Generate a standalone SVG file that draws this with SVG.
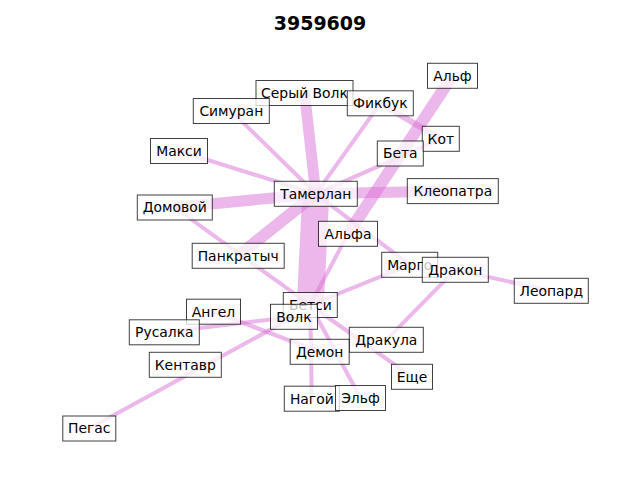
<svg xmlns="http://www.w3.org/2000/svg" width="640" height="480" viewBox="0 0 640 480">
<style>
.e{stroke:#DA70D6;stroke-opacity:0.5;fill:none;stroke-linecap:butt}
.n rect{fill:#fff;fill-opacity:0.75;stroke:#000;stroke-opacity:0.75;stroke-width:1}
.n text{font-family:"DejaVu Sans",sans-serif;font-size:13.9px;text-anchor:middle;fill:#000}
.t{font-family:"DejaVu Sans",sans-serif;font-size:19px;font-weight:bold;text-anchor:middle;fill:#000}
</style>
<rect x="0" y="0" width="640" height="480" fill="#fff"/>
<text class="t" x="320" y="30">3959609</text>
<g id="edges">
<line class="e" stroke-width="27" x1="315.8" y1="193.8" x2="310.3" y2="305"/>
<line class="e" stroke-width="11" x1="315.8" y1="193.8" x2="304.5" y2="93"/>
<line class="e" stroke-width="11" x1="315.8" y1="193.8" x2="452.8" y2="191.1"/>
<line class="e" stroke-width="11" x1="315.8" y1="193.8" x2="174.8" y2="207.5"/>
<line class="e" stroke-width="12" x1="315.8" y1="193.8" x2="238.2" y2="255.8"/>
<line class="e" stroke-width="12" x1="452.5" y1="75.8" x2="348" y2="233.8"/>
<line class="e" stroke-width="6" x1="380.3" y1="103.3" x2="440.8" y2="138.8"/>
<line class="e" stroke-width="4" x1="315.8" y1="193.8" x2="231.3" y2="111"/>
<line class="e" stroke-width="4" x1="315.8" y1="193.8" x2="380.3" y2="103.3"/>
<line class="e" stroke-width="4" x1="315.8" y1="193.8" x2="179" y2="151"/>
<line class="e" stroke-width="4" x1="315.8" y1="193.8" x2="440.8" y2="138.8"/>
<line class="e" stroke-width="4" x1="315.8" y1="193.8" x2="409.7" y2="264.8"/>
<line class="e" stroke-width="4" x1="174.8" y1="207.5" x2="310.3" y2="305"/>
<line class="e" stroke-width="4" x1="348" y1="233.8" x2="310.3" y2="305"/>
<line class="e" stroke-width="4" x1="310.3" y1="305" x2="409.7" y2="264.8"/>
<line class="e" stroke-width="4" x1="310.3" y1="305" x2="412" y2="376.8"/>
<line class="e" stroke-width="4" x1="310.3" y1="305" x2="360.5" y2="398"/>
<line class="e" stroke-width="4" x1="310.3" y1="305" x2="311.8" y2="398.7"/>
<line class="e" stroke-width="4" x1="213.5" y1="311.7" x2="319.7" y2="351.8"/>
<line class="e" stroke-width="4" x1="164.3" y1="332.3" x2="294" y2="316.8"/>
<line class="e" stroke-width="4" x1="89.3" y1="428.5" x2="294" y2="316.8"/>
<line class="e" stroke-width="4" x1="455.3" y1="269.8" x2="551.3" y2="290.8"/>
<line class="e" stroke-width="4" x1="455.3" y1="269.8" x2="386.3" y2="339.8"/>
</g>
<g id="n-serywolk" class="n"><rect x="256" y="80.5" width="97" height="25"/><text x="304.5" y="97.8">Серый Волк</text></g>
<g id="n-alf" class="n"><rect x="427.5" y="63.3" width="50" height="25"/><text x="452.5" y="80.6">Альф</text></g>
<g id="n-simuran" class="n"><rect x="193.3" y="98.5" width="76" height="25"/><text x="231.3" y="115.8">Симуран</text></g>
<g id="n-fikbuk" class="n"><rect x="347.3" y="90.8" width="66" height="25"/><text x="380.3" y="108.1">Фикбук</text></g>
<g id="n-kot" class="n"><rect x="422.3" y="126.3" width="37" height="25"/><text x="440.8" y="143.6">Кот</text></g>
<g id="n-maksi" class="n"><rect x="150.5" y="138.5" width="57" height="25"/><text x="179" y="155.8">Макси</text></g>
<g id="n-beta" class="n"><rect x="377.3" y="141" width="46" height="25"/><text x="400.3" y="158.3">Бета</text></g>
<g id="n-tamerlan" class="n"><rect x="274.3" y="181.3" width="83" height="25"/><text x="315.8" y="198.6">Тамерлан</text></g>
<g id="n-kleopatra" class="n"><rect x="407.3" y="178.6" width="91" height="25"/><text x="452.8" y="195.9">Клеопатра</text></g>
<g id="n-domovoy" class="n"><rect x="137.3" y="195" width="75" height="25"/><text x="174.8" y="212.3">Домовой</text></g>
<g id="n-alfa" class="n"><rect x="318.5" y="221.3" width="59" height="25"/><text x="348" y="238.6">Альфа</text></g>
<g id="n-pankratych" class="n"><rect x="192.2" y="243.3" width="92" height="25"/><text x="238.2" y="260.6">Панкратыч</text></g>
<g id="n-margo" class="n"><rect x="381.7" y="252.3" width="56" height="25"/><text x="409.7" y="269.6">Марго</text></g>
<g id="n-drakon" class="n"><rect x="422.3" y="257.3" width="66" height="25"/><text x="455.3" y="274.6">Дракон</text></g>
<g id="n-leopard" class="n"><rect x="514.3" y="278.3" width="74" height="25"/><text x="551.3" y="295.6">Леопард</text></g>
<g id="n-betsi" class="n"><rect x="283.3" y="292.5" width="54" height="25"/><text x="310.3" y="309.8">Бетси</text></g>
<g id="n-angel" class="n"><rect x="186.5" y="299.2" width="54" height="25"/><text x="213.5" y="316.5">Ангел</text></g>
<g id="n-volk" class="n"><rect x="270.5" y="304.3" width="47" height="25"/><text x="294" y="321.6">Волк</text></g>
<g id="n-rusalka" class="n"><rect x="129.3" y="319.8" width="70" height="25"/><text x="164.3" y="337.1">Русалка</text></g>
<g id="n-drakula" class="n"><rect x="349.3" y="327.3" width="74" height="25"/><text x="386.3" y="344.6">Дракула</text></g>
<g id="n-demon" class="n"><rect x="290.2" y="339.3" width="59" height="25"/><text x="319.7" y="356.6">Демон</text></g>
<g id="n-kentavr" class="n"><rect x="149.3" y="352.3" width="72" height="25"/><text x="185.3" y="369.6">Кентавр</text></g>
<g id="n-eshche" class="n"><rect x="391.5" y="364.3" width="41" height="25"/><text x="412" y="381.6">Еще</text></g>
<g id="n-nagoy" class="n"><rect x="284.3" y="386.2" width="55" height="25"/><text x="311.8" y="403.5">Нагой</text></g>
<g id="n-elf" class="n"><rect x="335.5" y="385.5" width="50" height="25"/><text x="360.5" y="402.8">Эльф</text></g>
<g id="n-pegas" class="n"><rect x="62.8" y="416" width="53" height="25"/><text x="89.3" y="433.3">Пегас</text></g>
</svg>
